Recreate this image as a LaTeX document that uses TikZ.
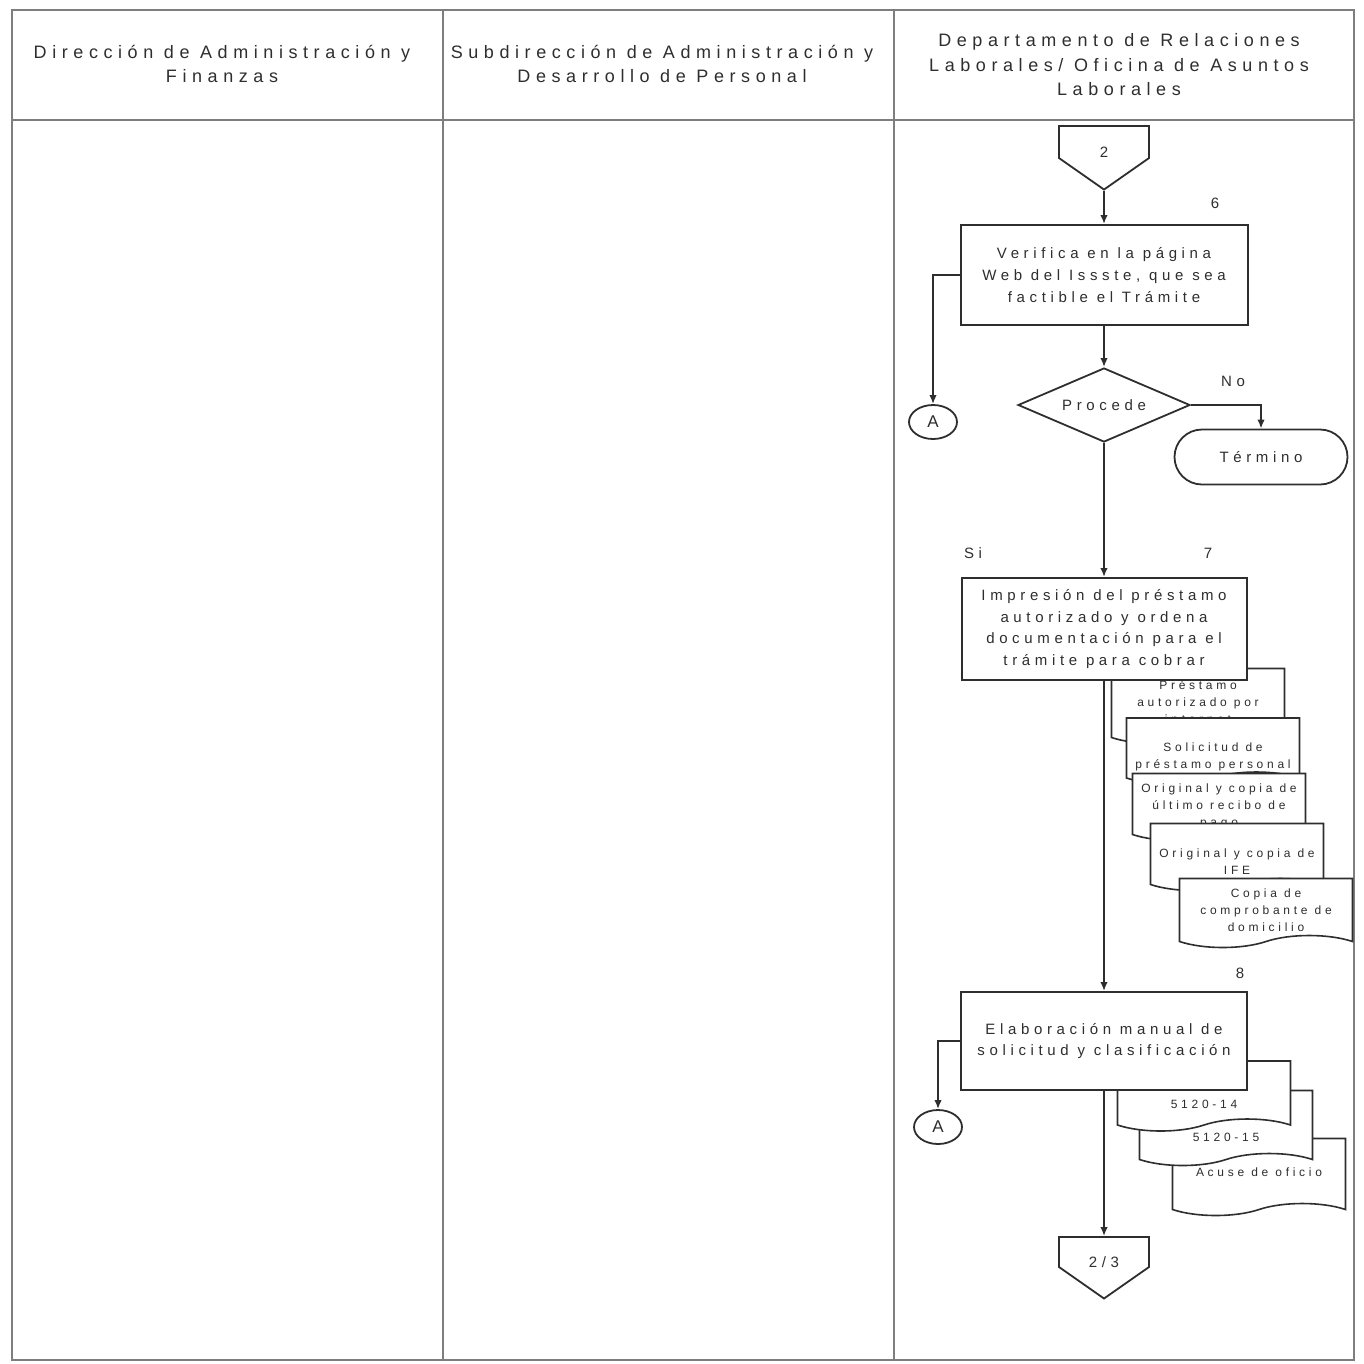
\documentclass[tikz,border=0pt]{standalone}
\usepackage{fontspec}
\usetikzlibrary{arrows.meta,shapes.geometric,shapes.misc,shapes.symbols}
\definecolor{flInk}{HTML}{2E2E2E}
\definecolor{flRule}{HTML}{7E7E7E}
\newfontfamily\flfont[LetterSpace=31]{Liberation Sans}
\newcommand{\FLHead}{\flfont\fontsize{18}{24.5}\selectfont}
\newcommand{\FLType}{\flfont\fontsize{15}{21.8}\selectfont}
\newcommand{\FLSmall}{\flfont\fontsize{12}{17}\selectfont}
\tikzset{fl/base/.style={x=1pt,y=-1pt,line cap=butt,line join=miter,
  every node/.style={font=\FLType,inner sep=0pt,text=flInk}},
  fl/arrow/.style={-{Latex[length=9pt,width=7.5pt]},draw=flInk,line width=1.8pt},
  fl/rule/.style={draw=flRule,line width=2.6pt},
  fl/task/.style={draw=flInk,fill=white,line width=2pt,minimum width=287pt,
    minimum height=100pt,align=center},
  fl/decide/.style={diamond,aspect=2.3,draw=flInk,fill=white,line width=1.8pt,
    minimum width=172pt,minimum height=74pt},
  fl/end/.style={rounded rectangle,draw=flInk,fill=white,line width=1.8pt,
    minimum width=173pt,minimum height=55pt},
  fl/link/.style={ellipse,draw=flInk,fill=white,line width=1.8pt,
    minimum width=48pt,minimum height=34pt,font=\flfont\fontsize{17}{20}\selectfont},
  fl/page/.style={signal,signal to=south,signal from=nowhere,signal pointer angle=110,
    draw=flInk,fill=white,line width=1.8pt,minimum width=90pt,minimum height=35pt,
    text height=30pt,text depth=0pt},
  fl/doc/.style={tape,tape bend top=none,tape bend height=12pt,draw=flInk,fill=white,
    line width=1.6pt,minimum width=173pt},
  fl/doctext/.style={font=\FLSmall,align=center}}

\begin{document}
\begin{tikzpicture}[fl/base]
  \useasboundingbox (0,0) rectangle (1364,1363);
  % lanes
  \draw[fl/rule] (12,10) rectangle (1354,1360);
  \draw[fl/rule] (12,120)--(1354,120);
  \foreach \x in {443,894}{\draw[fl/rule] (\x,10)--(\x,1360);}
  \node[font=\FLHead,align=center] (lane1) at (222,64) {Dirección de Administración y\\Finanzas};
  \node[font=\FLHead,align=center] (lane2) at (662,64) {Subdirección de Administración y\\Desarrollo de Personal};
  \node[font=\FLHead,align=center] (lane3) at (1119,65) {Departamento de Relaciones\\Laborales/ Oficina de Asuntos\\Laborales};
  % steps 6 and 7
  \node[fl/page] (c2) at (1104,142) {2};
  \node[fl/task] (v6) at (1104,275) {Verifica en la página\\Web del Issste, que sea\\factible el Trámite};
  \node[fl/decide] (proc) at (1104,405) {Procede};
  \node[fl/end] (term) at (1261,457) {Término};
  \node[fl/link] (a1) at (933,422) {A};
  \foreach \n/\x/\y/\h/\ty/\txt in {
    1/1198/700/75/702/{Préstamo\\autorizado por\\internet},
    2/1213/745/66/757/{Solicitud de\\préstamo personal},
    3/1219/801/67/806/{Original y copia de\\último recibo de\\pago},
    4/1237/851/67/862/{Original y copia de\\IFE},
    5/1266/907/69/910/{Copia de\\comprobante de\\domicilio}}{
    \node[fl/doc,minimum height=\h pt] (d\n) at (\x,\y) {};
    \node[fl/doctext] (t\n) at (\x,\ty) {\txt};}
  \node[fl/task,minimum width=285pt,minimum height=102pt] (imp) at (1104,629)
    {Impresión del préstamo\\autorizado y ordena\\documentación para el\\trámite para cobrar};
  % step 8
  \foreach \n/\x/\y/\h/\ty/\txt in {
    8/1259/1171/77/1172/{Acuse de oficio},
    7/1226/1122/75/1137/{5120-15},
    6/1204/1090/70/1104/{5120-14}}{
    \node[fl/doc,minimum height=\h pt] (d\n) at (\x,\y) {};
    \node[fl/doctext] (t\n) at (\x,\ty) {\txt};}
  \node[fl/task,minimum width=286pt,minimum height=98pt] (elab) at (1104,1041)
    {Elaboración manual de\\solicitud y clasificación};
  \node[fl/link] (a2) at (938,1127) {A};
  \node[fl/page] (c23) at (1104,1252) {2/3};
  % numbers and answers
  \node (n6) at (1215,203) {6};
  \node (n7) at (1208,553) {7};
  \node (n8) at (1240,973) {8};
  \node (no) at (1233,381) {No};
  \node (si) at (973,553) {Si};
  \draw[fl/arrow] (c2.south)--(v6.north);
  \draw[fl/arrow] (v6.west)-|(a1.north);
  \draw[fl/arrow] (v6.south)--(proc.north);
  \draw[fl/arrow] (proc.east)-|(term.north);
  \draw[fl/arrow] (proc.south)--(imp.north);
  \draw[fl/arrow] (imp.south)--(elab.north);
  \draw[fl/arrow] (elab.west)-|(a2.north);
  \draw[fl/arrow] (elab.south)--(c23.north);
\end{tikzpicture}
\end{document}
